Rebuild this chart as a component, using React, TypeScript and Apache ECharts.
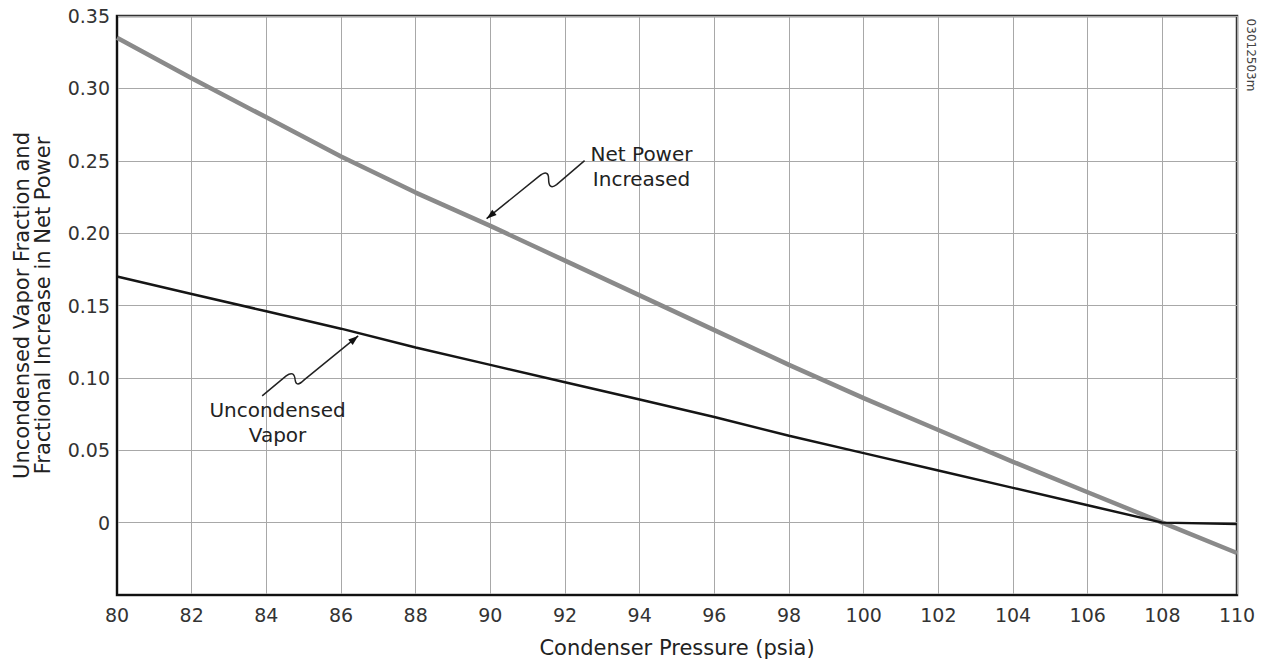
import React, { useEffect, useRef } from "react";
import * as echarts from "echarts";

const pressures = [80, 82, 84, 86, 88, 90, 92, 94, 96, 98, 100, 102, 104, 106, 108, 110];
const netPower = [0.335, 0.307, 0.28, 0.253, 0.228, 0.205, 0.181, 0.157, 0.133, 0.109, 0.086, 0.064, 0.042, 0.021, 0.0, -0.021];
const vapor = [0.17, 0.158, 0.146, 0.134, 0.121, 0.109, 0.097, 0.085, 0.073, 0.06, 0.048, 0.036, 0.024, 0.012, 0.0, -0.001];

const yTicks = [-0.05, 0, 0.05, 0.1, 0.15, 0.2, 0.25, 0.3, 0.35];
const xTitle = "Condenser Pressure (psia)";
const yTitle = "Uncondensed Vapor Fraction and\nFractional Increase in Net Power";
const netLabel = "Net Power\nIncreased";
const vaporLabel = "Uncondensed\nVapor";
const figId = "03012503m";

// annotation anchors in data coordinates
const netTextAt = [94.05, 0.246];
const netTipAt = [89.9, 0.21];
const vaporTextAt = [84.3, 0.069];
const vaporTipAt = [86.46, 0.129];

const FONT = "'DejaVu Sans', Arial, sans-serif";

echarts.graphic.registerShape(
  "netArrow",
  echarts.graphic.extendPath("M 0 0 L 52 -42 Q 62 -50 62 -40 Q 62 -28 70 -34 L 98 -58", {})
);
echarts.graphic.registerShape(
  "vaporArrow",
  echarts.graphic.extendPath("M 0 0 L -54 44 Q -62 52 -63 44 Q -64 34 -72 40 L -96 60", {})
);

export default function App() {
  const ref = useRef<HTMLDivElement>(null);
  useEffect(() => {
    if (!ref.current) return;
    const chart = echarts.init(ref.current, null, { renderer: "svg" });
    const toPair = (arr: number[]) => pressures.map((p, i) => [p, arr[i]]);
    chart.setOption({
      animation: false,
      backgroundColor: "#ffffff",
      textStyle: { fontFamily: FONT },
      grid: {
        left: 117,
        right: 26,
        top: 16,
        bottom: 66,
        show: true,
        borderColor: "#333",
        borderWidth: 2.5,
      },
      xAxis: {
        type: "value",
        min: 80,
        max: 110,
        interval: 2,
        name: xTitle,
        nameLocation: "middle",
        nameGap: 42,
        nameTextStyle: { fontSize: 21, color: "#222", fontFamily: FONT },
        axisLine: { show: true, onZero: false, lineStyle: { color: "#111", width: 2 } },
        axisTick: { show: false },
        axisLabel: { fontSize: 19, color: "#333", margin: 10, fontFamily: FONT },
        splitLine: { show: true, lineStyle: { color: "#a8a8a8", width: 1 } },
      },
      yAxis: {
        type: "value",
        min: yTicks[0],
        max: yTicks[yTicks.length - 1],
        interval: 0.05,
        name: yTitle,
        nameLocation: "middle",
        nameRotate: 90,
        nameGap: 64,
        nameTextStyle: { fontSize: 21, color: "#222", fontFamily: FONT, lineHeight: 21 },
        axisLine: { show: true, onZero: false, lineStyle: { color: "#111", width: 2 } },
        axisTick: { show: false },
        axisLabel: {
          fontSize: 19,
          color: "#333",
          margin: 7,
          fontFamily: FONT,
          formatter: (v: number) => {
            if (v < -0.01) return "";
            if (Math.abs(v) < 1e-9) return "0";
            return v.toFixed(2);
          },
        },
        splitLine: { show: true, lineStyle: { color: "#a8a8a8", width: 1 } },
      },
      series: [
        {
          type: "line",
          name: "Net Power Increased",
          data: toPair(netPower),
          showSymbol: false,
          lineStyle: { color: "#8a8a8a", width: 4.5 },
          z: 3,
        },
        {
          type: "line",
          name: "Uncondensed Vapor",
          data: toPair(vapor),
          showSymbol: false,
          lineStyle: { color: "#151515", width: 2.5 },
          z: 4,
        },
      ],
    });

    const px = (p: number[]) => chart.convertToPixel({ gridIndex: 0 }, p) as number[];
    const nt = px(netTextAt);
    const ntip = px(netTipAt);
    const vt = px(vaporTextAt);
    const vtip = px(vaporTipAt);
    const textStyle = {
      fill: "#222",
      fontSize: 20,
      fontFamily: FONT,
      align: "center",
      verticalAlign: "middle",
      lineHeight: 25,
    };
    chart.setOption({
      graphic: [
        { type: "text", x: nt[0], y: nt[1], style: { ...textStyle, text: netLabel }, z: 10 },
        { type: "text", x: vt[0], y: vt[1], style: { ...textStyle, text: vaporLabel }, z: 10 },
        {
          type: "netArrow",
          x: ntip[0],
          y: ntip[1],
          style: { fill: null, stroke: "#222", lineWidth: 1.5 },
          z: 10,
        },
        {
          type: "polygon",
          x: ntip[0],
          y: ntip[1],
          shape: { points: [[0, 0], [10, -3.6], [5.6, -9]] },
          style: { fill: "#111" },
          z: 11,
        },
        {
          type: "vaporArrow",
          x: vtip[0],
          y: vtip[1],
          style: { fill: null, stroke: "#222", lineWidth: 1.5 },
          z: 10,
        },
        {
          type: "polygon",
          x: vtip[0],
          y: vtip[1],
          shape: { points: [[0, 0], [-5.5, 9], [-9.9, 3.6]] },
          style: { fill: "#111" },
          z: 11,
        },
        {
          type: "text",
          x: 1251,
          y: 55,
          rotation: -Math.PI / 2,
          style: {
            text: figId,
            fill: "#444",
            fontSize: 12,
            fontFamily: FONT,
            align: "center",
            verticalAlign: "middle",
          },
        },
      ],
    });
    return () => chart.dispose();
  }, []);
  return (
    <div
      ref={ref}
      style={{ position: "fixed", left: 0, top: 0, width: 1263, height: 663 }}
    />
  );
}
